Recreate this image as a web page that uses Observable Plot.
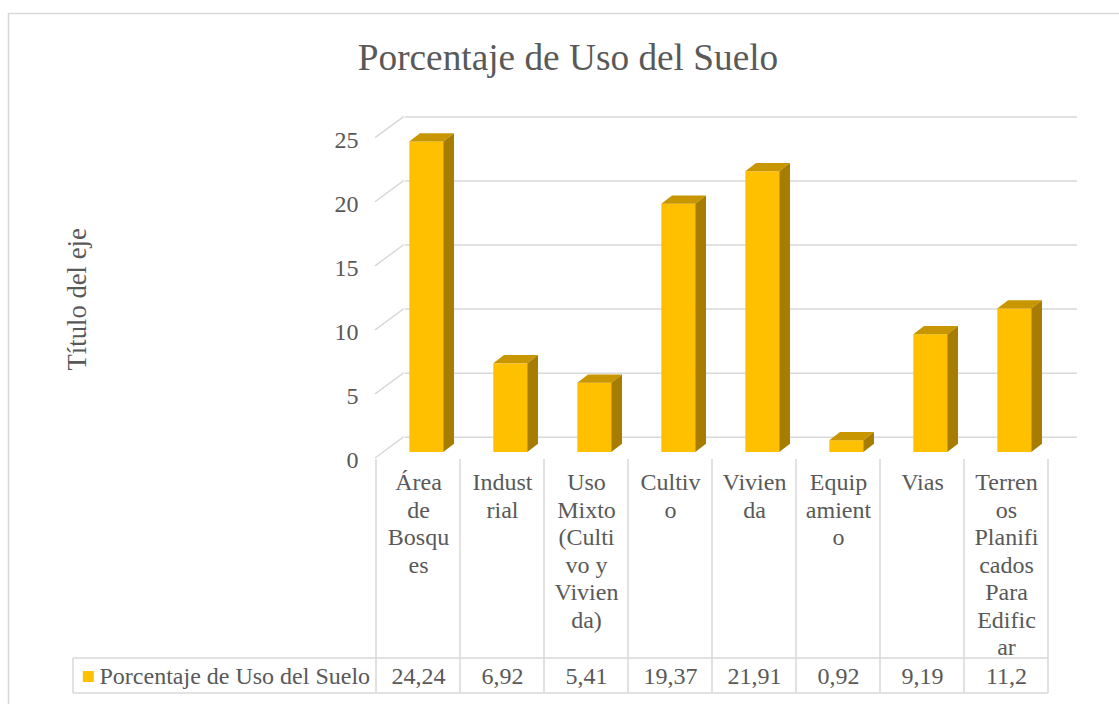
<!DOCTYPE html>
<html><head><meta charset="utf-8">
<script src="https://cdn.jsdelivr.net/npm/d3@7"></script>
<script src="https://cdn.jsdelivr.net/npm/@observablehq/plot@0.6"></script>
<style>body{margin:0;background:#fff}#chart svg{display:block}</style>
</head><body><div id="chart"></div>
<script>
// ---- data ----
const categories = ["Área de Bosques", "Industrial", "Uso Mixto (Cultivo y Vivienda)", "Cultivo", "Vivienda", "Equipamiento", "Vias", "Terrenos Planificados Para Edificar"];
const tickLabels = ["Área\nde\nBosqu\nes", "Indust\nrial", "Uso\nMixto\n(Culti\nvo y\nVivien\nda)", "Cultiv\no", "Vivien\nda", "Equip\namient\no", "Vias", "Terren\nos\nPlanifi\ncados\nPara\nEdific\nar"];
const values = [24.24, 6.92, 5.41, 19.37, 21.91, 0.92, 9.19, 11.2];
const yTicks = [0, 5, 10, 15, 20, 25];
const seriesName = "Porcentaje de Uso del Suelo";
const chartTitle = "Porcentaje de Uso del Suelo";
const axisTitle = "Título del eje";

const data = categories.map((c, i) => ({cat: c, label: tickLabels[i], value: values[i]}));

// ---- style / layout ----
const W = 1119, H = 704;
const mL = 376, mR = 71, mT = 137.7, mB = 246;
const GRID = "#D9D9D9", TXT = "#595959";
const FRONT = "#FFC000", TOP = "#C89600", SIDE = "#A67D00";
const BACK_DX = 29, BACK_DY = -21.3;       // back wall offset
const BAR_DX = 8.3, BAR_DY = -6;           // bar plane offset
const BAR_INSET = 25;                      // inset of bar in band
const SX = 10.7, SY = -8.3;                // bar depth
const ROW1 = 200, ROW2 = 235;              // table rows below y(0)
const LEG_X = 73;

function bandw(s) { return typeof s.bandwidth === "function" ? s.bandwidth() : s.bandwidth; }

// border
function border() {
  const g = d3.create("svg:g");
  g.append("rect").attr("x", 8.5).attr("y", 13.5).attr("width", W + 20).attr("height", H + 20)
    .attr("fill", "none").attr("stroke", GRID).attr("stroke-width", 1.5);
  return g.node();
}

// left wall diagonals
function wall(index, scales) {
  const g = d3.create("svg:g");
  const [x0] = scales.x.range();
  for (const t of yTicks) {
    const y = scales.y(t);
    g.append("line").attr("x1", x0 - 1).attr("y1", y).attr("x2", x0 + BACK_DX - 1).attr("y2", y + BACK_DY)
      .attr("stroke", GRID).attr("stroke-width", 1.5);
  }
  return g.node();
}

// top and side faces of 3D columns
function faces(index, scales) {
  const g = d3.create("svg:g");
  const bw = bandw(scales.x);
  for (const d of data) {
    const xl = scales.x(d.cat) + BAR_INSET + BAR_DX;
    const xr = scales.x(d.cat) + bw - BAR_INSET + BAR_DX;
    const yt = scales.y(d.value) + BAR_DY, yb = scales.y(0) + BAR_DY;
    g.append("path").attr("d", `M${xl},${yt}L${xr},${yt}L${xr + SX},${yt + SY}L${xl + SX},${yt + SY}Z`).attr("fill", TOP);
    g.append("path").attr("d", `M${xr},${yt}L${xr + SX},${yt + SY}L${xr + SX},${yb + SY}L${xr},${yb}Z`).attr("fill", SIDE);
  }
  return g.node();
}

// data table grid
function table(index, scales) {
  const g = d3.create("svg:g").attr("stroke", GRID).attr("stroke-width", 1.5);
  const bw = bandw(scales.x);
  const y0 = scales.y(0);
  const xs = categories.map(c => scales.x(c)).concat([scales.x(categories[categories.length - 1]) + bw]);
  const xEnd = xs[xs.length - 1];
  for (const x of xs) g.append("line").attr("x1", x).attr("x2", x).attr("y1", y0 + 1).attr("y2", y0 + ROW2);
  g.append("line").attr("x1", LEG_X).attr("x2", LEG_X).attr("y1", y0 + ROW1).attr("y2", y0 + ROW2);
  g.append("line").attr("x1", LEG_X).attr("x2", xEnd).attr("y1", y0 + ROW1).attr("y2", y0 + ROW1);
  g.append("line").attr("x1", LEG_X).attr("x2", xEnd).attr("y1", y0 + ROW2).attr("y2", y0 + ROW2);
  return g.node();
}

const fmt = v => String(v).replace(".", ",");

const chart = Plot.plot({
  width: W, height: H,
  marginLeft: mL, marginRight: mR, marginTop: mT, marginBottom: mB,
  style: {fontFamily: "'Liberation Serif', 'Times New Roman', serif", fontSize: "24px", color: TXT, background: "#fff"},
  x: {type: "band", domain: categories, padding: 0, axis: null},
  y: {domain: [0, 25], axis: null},
  marks: [
    border,
    Plot.ruleY(yTicks, {stroke: GRID, strokeWidth: 1.5, dx: BACK_DX, dy: BACK_DY}),
    wall,
    Plot.axisY({ticks: yTicks, tickSize: 0, tickPadding: 18, fontSize: 24, dy: 2, label: null, fill: TXT}),
    Plot.barY(data, {x: "cat", y: "value", fill: FRONT, insetLeft: BAR_INSET, insetRight: BAR_INSET, dx: BAR_DX, dy: BAR_DY}),
    faces,
    table,
    Plot.text(data, {x: "cat", text: "label", frameAnchor: "bottom", lineAnchor: "top", dy: 12, lineHeight: 1.146, fontSize: 24, fill: TXT}),
    Plot.text(data, {x: "cat", text: d => fmt(d.value), frameAnchor: "bottom", lineAnchor: "middle", dy: 218, fontSize: 24, fill: TXT}),
    Plot.text([seriesName], {frameAnchor: "bottom-left", textAnchor: "start", lineAnchor: "middle", dx: 99 - mL, dy: 218, fontSize: 24, fill: TXT}),
    Plot.dot([0], {frameAnchor: "bottom-left", dx: 87.8 - mL, dy: 218, symbol: "square", r: 6.2, fill: FRONT, stroke: "none"}),
    Plot.text([chartTitle], {frameAnchor: "top", textAnchor: "middle", lineAnchor: "middle", dx: 567.5 - (mL + W - mR) / 2, dy: 58 - mT, fontSize: 37.3, fill: TXT}),
    Plot.text([axisTitle], {frameAnchor: "left", textAnchor: "middle", lineAnchor: "middle", rotate: -90, dx: 77 - mL, dy: 1, fontSize: 26.7, fill: TXT})
  ]
});
document.getElementById("chart").append(chart);
</script>
</body></html>
